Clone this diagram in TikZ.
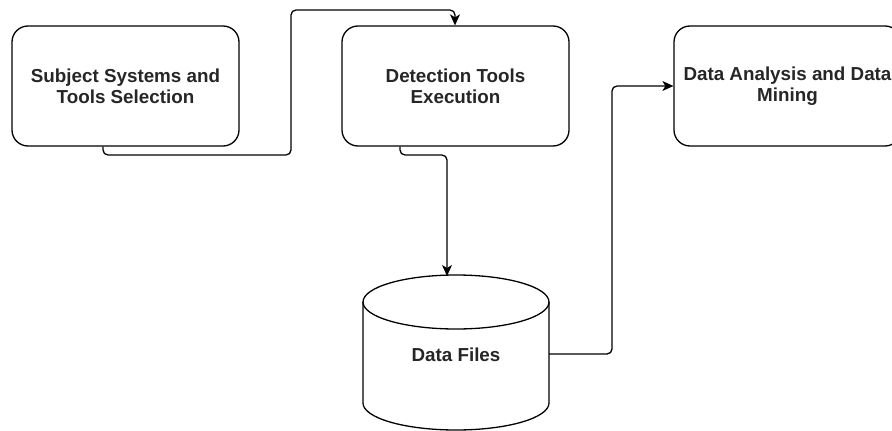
\documentclass[tikz,border=0pt]{standalone}
\usepackage{fontspec}
\setmainfont{Liberation Sans}
\usetikzlibrary{arrows.meta}
\tikzset{
  stepbox/.style={draw=black, line width=1.3pt, rounded corners=16pt,
    minimum width=227pt, minimum height=120pt, align=center,
    font=\bfseries\fontsize{18.8}{21}\selectfont, text=black!85},
  link/.style={draw=black, line width=1.3pt, rounded corners=5pt,
    -{Stealth[length=11pt,width=10pt,inset=3pt]}},
}
\begin{document}
\begin{tikzpicture}[x=1pt, y=-1pt]
  \useasboundingbox (0,0) rectangle (892,431);

  % process boxes
  \node[stepbox] (b1) at (125.5,86) {Subject Systems and\\Tools Selection};
  \node[stepbox] (b2) at (455.5,86) {Detection Tools\\Execution};
  \node[stepbox] (b3) at (787.5,86) {Data Analysis and Data\\Mining};

  % data store drawn as a cylinder
  \draw[line width=1.3pt, fill=white]
    (363,302) -- (363,403) arc[start angle=180, end angle=0, x radius=93, y radius=27]
    -- (549,302) arc[start angle=0, end angle=-180, x radius=93, y radius=27] -- cycle;
  \draw[line width=1.3pt] (363,302) arc[start angle=180, end angle=0, x radius=93, y radius=27];
  \node[font=\bfseries\fontsize{18.8}{21}\selectfont, text=black!85] (db) at (456,355) {Data Files};
  \coordinate (dbtop) at (447,276);
  \coordinate (dbright) at (549,354);

  % connectors
  \draw[link] ([xshift=-22.5pt]b1.south) |- (291,155) |- (455,10) -- ([xshift=-0.5pt]b2.north);
  \draw[link] ([xshift=-55.5pt]b2.south) |- (447,155) -- (dbtop);
  \draw[link] (dbright) -| (612,86) -- (b3.west);
\end{tikzpicture}
\end{document}
